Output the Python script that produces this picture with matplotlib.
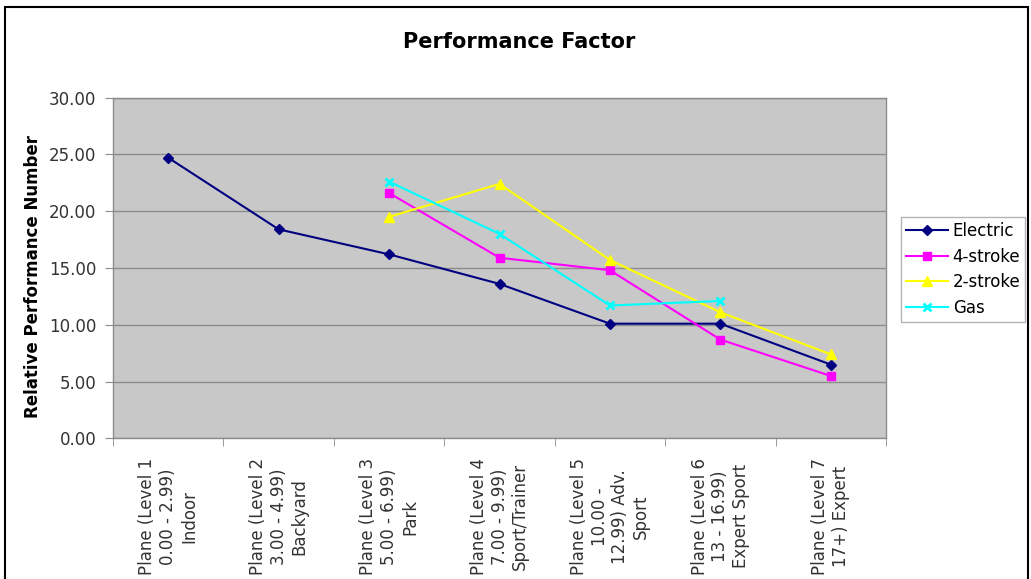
import numpy as np
import matplotlib
matplotlib.use("Agg")
import matplotlib.pyplot as plt
from matplotlib.patches import Rectangle

categories = [
    "Plane (Level 1\n0.00 - 2.99)\nIndoor",
    "Plane (Level 2\n3.00 - 4.99)\nBackyard",
    "Plane (Level 3\n5.00 - 6.99)\nPark",
    "Plane (Level 4\n7.00 - 9.99)\nSport/Trainer",
    "Plane (Level 5\n10.00 -\n12.99) Adv.\nSport",
    "Plane (Level 6\n13 - 16.99)\nExpert Sport",
    "Plane (Level 7\n17+) Expert",
]
nan = np.nan
electric = [24.7, 18.4, 16.2, 13.6, 10.1, 10.1, 6.5]
four_stroke = [nan, nan, 21.6, 15.9, 14.8, 8.7, 5.5]
two_stroke = [nan, nan, 19.5, 22.4, 15.7, 11.1, 7.4]
gas = [nan, nan, 22.6, 18.0, 11.7, 12.1, nan]
yticks = [0, 5, 10, 15, 20, 25, 30]

fig = plt.figure(figsize=(10.31, 5.79), dpi=100)
ax = fig.add_axes([0.1096, 0.2427, 0.7498, 0.5889])
ax.set_facecolor("#c8c8c8")

x = np.arange(len(categories))
ax.plot(x, electric, color="#000080", lw=1.5, marker="D", ms=5, label="Electric")
ax.plot(x, four_stroke, color="#ff00ff", lw=1.5, marker="s", ms=6, label="4-stroke")
ax.plot(x, two_stroke, color="#ffff00", lw=1.5, marker="^", ms=7, label="2-stroke")
ax.plot(x, gas, color="#00ffff", lw=1.5, marker="x", ms=6, mew=2, label="Gas")

ax.set_xlim(-0.5, len(categories) - 0.5)
ax.set_ylim(0, 30)
ax.set_yticks(yticks)
ax.set_yticklabels([f"{v:.2f}" for v in yticks], fontsize=12, color="#333333")
ax.yaxis.grid(True, color="#8c8c8c", lw=1)
ax.set_axisbelow(True)
ax.tick_params(axis="y", length=6, color="#8c8c8c", pad=6)

ax.set_xticks(x)
ax.set_xticklabels(categories, rotation=90, fontsize=12, color="#333333",
                   ha="center", va="top", multialignment="center")
ax.tick_params(axis="x", which="major", length=0, pad=14)
ax.set_xticks(np.arange(-0.5, len(categories)), minor=True)
ax.tick_params(axis="x", which="minor", length=6, color="#8c8c8c")

for s in ax.spines.values():
    s.set_color("#8c8c8c")
    s.set_linewidth(1)

fig.text(0.5034, 0.917, "Performance Factor", ha="center", va="baseline",
         fontsize=15, fontweight="bold")
fig.text(0.032, 0.5216, "Relative Performance Number", rotation=90,
         ha="center", va="center", fontsize=12, fontweight="bold")

leg = fig.legend(loc="upper left", bbox_to_anchor=(0.8739, 0.6252),
                 fontsize=12, frameon=True, fancybox=False, borderaxespad=0,
                 handlelength=2.5, handletextpad=0.3, labelspacing=0.45,
                 borderpad=0.3)
leg.get_frame().set_edgecolor("#a0a0a0")
leg.get_frame().set_linewidth(1)

fig.patches.append(Rectangle((5 / 1031, -0.02), 1023 / 1031, 1.02 - 7 / 579,
                             transform=fig.transFigure, fill=False,
                             edgecolor="black", lw=1.5))

fig.savefig("out.png", dpi=100)
